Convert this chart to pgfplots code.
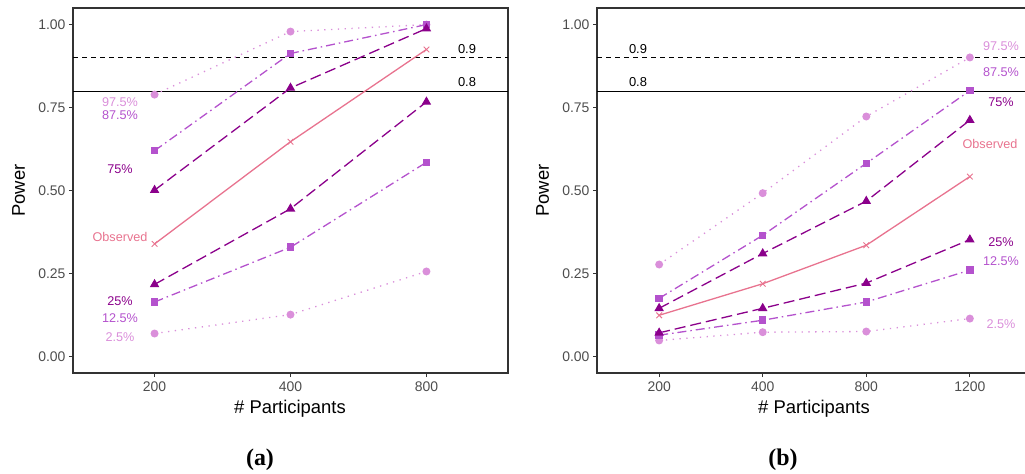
\documentclass[border=0pt]{standalone}
\usepackage{fontspec}
\setmainfont{Liberation Sans}
\newfontfamily\capfont{Liberation Serif}
\usepackage{pgfplots}
\pgfplotsset{compat=1.18}

\definecolor{lt}{HTML}{DA8FDA}
\definecolor{md}{HTML}{B452CD}
\definecolor{dk}{HTML}{8B008B}
\definecolor{obs}{HTML}{E8738F}
\definecolor{tk}{HTML}{4D4D4D}

\pgfplotsset{
  pw/.style={scale only axis, width=435bp, height=365bp,
    ymin=-0.05, ymax=1.05, xmin=0.4,
    ytick={0,0.25,0.5,0.75,1}, yticklabels={0.00,0.25,0.50,0.75,1.00},
    xtick={1,2,3,4}, xtick pos=bottom, ytick pos=left,
    tick align=outside, major tick length=4bp,
    tick style={black!80, line width=0.9bp},
    axis line style={black!80, line width=1.1bp},
    ticklabel style={font=\fontsize{14}{16}\selectfont, text=tk},
    xticklabel style={yshift=-1bp},
  },
  q1/.style={lt, line width=1.3bp, dash pattern=on 1.3bp off 5.5bp,
    mark=*, mark size=3.3bp, mark options={solid, fill=lt, draw=none}},
  q2/.style={md, line width=1.3bp, dash pattern=on 9bp off 4bp on 1.5bp off 4bp,
    mark=square*, mark size=3.1bp, mark options={solid, fill=md, draw=none}},
  q3/.style={dk, line width=1.3bp, dash pattern=on 11bp off 5bp,
    mark=triangle*, mark size=4.2bp, mark options={solid, fill=dk, draw=none}},
  qo/.style={obs, line width=1.3bp, solid,
    mark=x, mark size=4bp, mark options={solid, line width=0.9bp}},
}
\tikzset{lab/.style={font=\fontsize{12.7}{14}\selectfont}}

\begin{document}
\begin{tikzpicture}
\useasboundingbox (0,0) rectangle (1025bp,-474bp);

% ---- panel (a)
\begin{axis}[pw, at={(73bp,-373bp)}, anchor=south west,
  xmax=3.6, xticklabels={200,400,800}]
\addplot[black, line width=0.8bp, dash pattern=on 5bp off 4bp] coordinates {(0.4,0.9) (3.6,0.9)};
\addplot[black, line width=0.8bp] coordinates {(0.4,0.8) (3.6,0.8)};
\addplot[q1] coordinates {(1,0.069) (2,0.126) (3,0.256)};
\addplot[q1] coordinates {(1,0.789) (2,0.979) (3,1.000)};
\addplot[q2] coordinates {(1,0.164) (2,0.329) (3,0.585)};
\addplot[q2] coordinates {(1,0.620) (2,0.913) (3,1.000)};
\addplot[q3] coordinates {(1,0.217) (2,0.445) (3,0.767)};
\addplot[q3] coordinates {(1,0.501) (2,0.809) (3,0.988)};
\addplot[qo] coordinates {(1,0.339) (2,0.647) (3,0.925)};
\end{axis}

% ---- panel (b)
\begin{axis}[pw, at={(597bp,-373bp)}, anchor=south west,
  xmax=4.6, xticklabels={200,400,800,1200}]
\addplot[black, line width=0.8bp, dash pattern=on 5bp off 4bp] coordinates {(0.4,0.9) (4.6,0.9)};
\addplot[black, line width=0.8bp] coordinates {(0.4,0.8) (4.6,0.8)};
\addplot[q1] coordinates {(1,0.048) (2,0.073) (3,0.075) (4,0.114)};
\addplot[q1] coordinates {(1,0.277) (2,0.492) (3,0.723) (4,0.901)};
\addplot[q2] coordinates {(1,0.064) (2,0.109) (3,0.164) (4,0.260)};
\addplot[q2] coordinates {(1,0.175) (2,0.365) (3,0.582) (4,0.801)};
\addplot[q3] coordinates {(1,0.071) (2,0.145) (3,0.221) (4,0.352)};
\addplot[q3] coordinates {(1,0.145) (2,0.310) (3,0.468) (4,0.712)};
\addplot[qo] coordinates {(1,0.124) (2,0.219) (3,0.335) (4,0.542)};
\end{axis}

% axis titles
\begin{scope}[font=\fontsize{18.5}{20}\selectfont]
\node at (290bp,-409bp) {\# Participants};
\node at (814bp,-409bp) {\# Participants};
\node[rotate=90] at (18.5bp,-190.5bp) {Power};
\node[rotate=90] at (542.5bp,-190.5bp) {Power};
\end{scope}

% reference line labels
\begin{scope}[font=\fontsize{13}{14}\selectfont]
\node at (467bp,-48.7bp) {0.9};
\node at (467bp,-81.7bp) {0.8};
\node at (638bp,-48.7bp) {0.9};
\node at (638bp,-81.7bp) {0.8};
\end{scope}

% series labels (a)
\node[lab, text=lt] at (120bp,-101.7bp) {97.5\%};
\node[lab, text=md] at (120bp,-115bp) {87.5\%};
\node[lab, text=dk] at (120bp,-169.3bp) {75\%};
\node[lab, text=obs] at (120bp,-237.3bp) {Observed};
\node[lab, text=dk] at (120bp,-300.7bp) {25\%};
\node[lab, text=md] at (120bp,-317.7bp) {12.5\%};
\node[lab, text=lt] at (120bp,-337.3bp) {2.5\%};

% series labels (b)
\node[lab, text=lt] at (1001bp,-45.7bp) {97.5\%};
\node[lab, text=md] at (1001bp,-71.7bp) {87.5\%};
\node[lab, text=dk] at (1001bp,-101.7bp) {75\%};
\node[lab, text=obs] at (990bp,-144.3bp) {Observed};
\node[lab, text=dk] at (1001bp,-241.7bp) {25\%};
\node[lab, text=md] at (1001bp,-260.7bp) {12.5\%};
\node[lab, text=lt] at (1001bp,-324.3bp) {2.5\%};

% captions
\node[font=\capfont\bfseries\fontsize{24}{26}\selectfont] at (260bp,-460bp) {(a)};
\node[font=\capfont\bfseries\fontsize{24}{26}\selectfont] at (783bp,-460bp) {(b)};
\end{tikzpicture}
\end{document}
